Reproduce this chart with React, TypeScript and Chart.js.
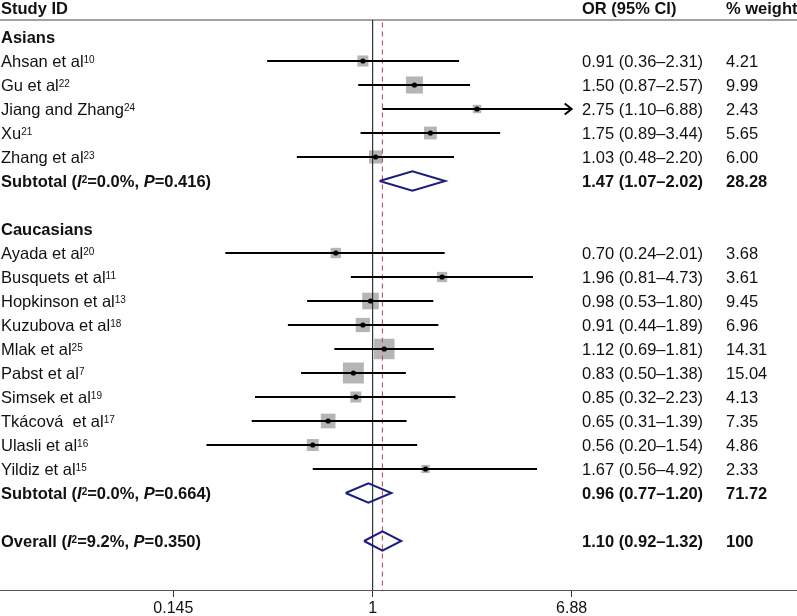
import React, { useEffect, useRef } from "react";
import { Chart, registerables } from "chart.js";

Chart.register(...registerables);

// ---------- data ----------
const studyNames = [
  "Ahsan et al", "Gu et al", "Jiang and Zhang", "Xu", "Zhang et al",
  "Ayada et al", "Busquets et al", "Hopkinson et al", "Kuzubova et al", "Mlak et al",
  "Pabst et al", "Simsek et al", "Tkácová  et al", "Ulasli et al", "Yildiz et al",
];
const studyRefs = ["10", "22", "24", "21", "23", "20", "11", "13", "18", "25", "7", "19", "17", "16", "15"];
const studyRows = [1, 2, 3, 4, 5, 9, 10, 11, 12, 13, 14, 15, 16, 17, 18];
const studyOR = [0.91, 1.5, 2.75, 1.75, 1.03, 0.7, 1.96, 0.98, 0.91, 1.12, 0.83, 0.85, 0.65, 0.56, 1.67];
const studyLow = [0.36, 0.87, 1.1, 0.89, 0.48, 0.24, 0.81, 0.53, 0.44, 0.69, 0.5, 0.32, 0.31, 0.2, 0.56];
const studyHigh = [2.31, 2.57, 6.88, 3.44, 2.2, 2.01, 4.73, 1.8, 1.89, 1.81, 1.38, 2.23, 1.39, 1.54, 4.92];
const studyWeight = [4.21, 9.99, 2.43, 5.65, 6.0, 3.68, 3.61, 9.45, 6.96, 14.31, 15.04, 4.13, 7.35, 4.86, 2.33];

const groupNames = ["Asians", "Caucasians"];
const groupRows = [0, 8];

const summaryRows = [6, 19, 21];
const summaryLabels = ["Subtotal", "Subtotal", "Overall"];
const summaryI2 = ["0.0%", "0.0%", "9.2%"];
const summaryP = ["0.416", "0.664", "0.350"];
const summaryOR = [1.47, 0.96, 1.1];
const summaryLow = [1.07, 0.77, 0.92];
const summaryHigh = [2.02, 1.2, 1.32];
const summaryWeight = ["28.28", "71.72", "100"];

const tickValues = [0.145, 1, 6.88];
const tickLabels = ["0.145", "1", "6.88"];
const nullValue = 1;
const overallEffect = 1.1;
const plotMax = 6.88;

// ---------- layout constants ----------
const W = 797;
const H = 616;
const X_MIN = 0.02705;
const X_MAX = 61.05;
const Y_MIN = -37 / 24;
const Y_MAX = (590 - 37) / 24;
const HEADER_ROW = -1.2;
const TOP_LINE_ROW = -0.708;
const FONT = '"Liberation Sans", Arial, Helvetica, sans-serif';
const FS = 16.5;
const COL_OR = 582;
const COL_W = 726;
const TEXT = "#111111";
const NAVY = "rgb(28,30,125)";

type Seg = { t: string; b?: boolean; i?: boolean; sup?: boolean };

function drawSegs(ctx: CanvasRenderingContext2D, segs: Seg[], x: number, yMid: number) {
  let cx = x;
  const base = yMid + 0.355 * FS;
  for (const s of segs) {
    const sz = s.sup ? 10 : FS;
    ctx.font = `${s.i ? "italic " : ""}${s.b ? "bold " : ""}${sz}px ${FONT}`;
    ctx.fillText(s.t, cx, s.sup ? base - 3.5 : base);
    cx += ctx.measureText(s.t).width;
  }
}

const fmt = (v: number) => v.toFixed(2);

const textPlugin = {
  id: "forestText",
  afterDraw(chart: any) {
    const ctx: CanvasRenderingContext2D = chart.ctx;
    const ys = chart.scales.y;
    const xs = chart.scales.x;
    ctx.save();
    ctx.fillStyle = TEXT;
    ctx.textAlign = "left";
    ctx.textBaseline = "alphabetic";
    const yh = ys.getPixelForValue(HEADER_ROW);
    drawSegs(ctx, [{ t: "Study ID", b: true }], 1, yh);
    drawSegs(ctx, [{ t: "OR (95% CI)", b: true }], COL_OR, yh);
    drawSegs(ctx, [{ t: "% weight", b: true }], COL_W, yh);

    groupNames.forEach((g, k) => {
      drawSegs(ctx, [{ t: g, b: true }], 1, ys.getPixelForValue(groupRows[k]));
    });

    studyNames.forEach((n, k) => {
      const y = ys.getPixelForValue(studyRows[k]);
      drawSegs(ctx, [{ t: n }, { t: studyRefs[k], sup: true }], 1, y);
      drawSegs(ctx, [{ t: `${fmt(studyOR[k])} (${fmt(studyLow[k])}–${fmt(studyHigh[k])})` }], COL_OR, y);
      drawSegs(ctx, [{ t: fmt(studyWeight[k]) }], COL_W, y);
    });

    summaryLabels.forEach((l, k) => {
      const y = ys.getPixelForValue(summaryRows[k]);
      drawSegs(
        ctx,
        [
          { t: `${l} (`, b: true },
          { t: "I", b: true, i: true },
          { t: "2", b: true, sup: true },
          { t: `=${summaryI2[k]}, `, b: true },
          { t: "P", b: true, i: true },
          { t: `=${summaryP[k]})`, b: true },
        ],
        1,
        y
      );
      drawSegs(ctx, [{ t: `${fmt(summaryOR[k])} (${fmt(summaryLow[k])}–${fmt(summaryHigh[k])})`, b: true }], COL_OR, y);
      drawSegs(ctx, [{ t: summaryWeight[k], b: true }], COL_W, y);
    });

    // arrowheads for clipped CIs
    ctx.strokeStyle = "#000";
    ctx.lineWidth = 2;
    studyHigh.forEach((h, k) => {
      if (h >= plotMax) {
        const px = xs.getPixelForValue(plotMax);
        const py = ys.getPixelForValue(studyRows[k]);
        ctx.beginPath();
        ctx.moveTo(px - 7, py - 5.5);
        ctx.lineTo(px, py);
        ctx.lineTo(px - 7, py + 5.5);
        ctx.stroke();
      }
    });
    ctx.restore();
  },
};

function buildDatasets() {
  const ds: any[] = [];
  // top rule
  ds.push({
    type: "line",
    data: [{ x: X_MIN, y: TOP_LINE_ROW }, { x: X_MAX, y: TOP_LINE_ROW }],
    borderColor: "#444",
    borderWidth: 1,
    pointRadius: 0,
    order: 9,
    clip: false,
  });
  // null line
  ds.push({
    type: "line",
    data: [{ x: nullValue, y: TOP_LINE_ROW }, { x: nullValue, y: Y_MAX }],
    borderColor: "#333",
    borderWidth: 1.2,
    pointRadius: 0,
    order: 7,
    clip: false,
  });
  // overall effect dashed line
  ds.push({
    type: "line",
    data: [{ x: overallEffect, y: TOP_LINE_ROW + 0.1 }, { x: overallEffect, y: Y_MAX }],
    borderColor: "rgb(185,90,110)",
    borderWidth: 1.2,
    borderDash: [5, 4],
    pointRadius: 0,
    order: 7,
    clip: false,
  });
  // weight squares
  ds.push({
    type: "scatter",
    data: studyOR.map((v, k) => ({ x: v, y: studyRows[k] })),
    pointStyle: "rect",
    pointRadius: studyWeight.map((w) => (5.4 * Math.sqrt(w)) / Math.SQRT2),
    backgroundColor: "#b5b5b5",
    borderWidth: 0,
    order: 8,
  });
  // CI lines
  studyOR.forEach((_, k) => {
    ds.push({
      type: "line",
      data: [
        { x: studyLow[k], y: studyRows[k] },
        { x: Math.min(studyHigh[k], plotMax), y: studyRows[k] },
      ],
      borderColor: "#000",
      borderWidth: 2,
      pointRadius: 0,
      order: 5,
    });
  });
  // point estimates
  ds.push({
    type: "scatter",
    data: studyOR.map((v, k) => ({ x: v, y: studyRows[k] })),
    pointStyle: "circle",
    pointRadius: 2.6,
    backgroundColor: "#000",
    borderWidth: 0,
    order: 1,
  });
  // diamonds
  summaryOR.forEach((v, k) => {
    const r = summaryRows[k];
    ds.push({
      type: "line",
      data: [
        { x: summaryLow[k], y: r },
        { x: v, y: r - 0.4 },
        { x: summaryHigh[k], y: r },
        { x: v, y: r + 0.4 },
        { x: summaryLow[k], y: r },
      ],
      borderColor: NAVY,
      borderWidth: 2,
      pointRadius: 0,
      fill: false,
      tension: 0,
      order: 2,
    });
  });
  return ds;
}

export default function App() {
  const ref = useRef<HTMLCanvasElement | null>(null);
  useEffect(() => {
    if (!ref.current) return;
    const chart = new Chart(ref.current, {
      type: "scatter",
      data: { datasets: buildDatasets() },
      options: {
        responsive: false,
        animation: false,
        events: [],
        layout: { padding: 0, autoPadding: false },
        plugins: { legend: { display: false }, tooltip: { enabled: false } },
        scales: {
          x: {
            type: "logarithmic",
            position: "bottom",
            min: X_MIN,
            max: X_MAX,
            afterBuildTicks: (s: any) => {
              s.ticks = tickValues.map((v) => ({ value: v }));
            },
            afterFit: (s: any) => {
              s.height = H - 590;
              s.paddingLeft = 0;
              s.paddingRight = 0;
              s.paddingTop = 0;
              s.paddingBottom = 0;
            },
            ticks: {
              autoSkip: false,
              maxRotation: 0,
              color: TEXT,
              padding: 2,
              font: { family: FONT, size: 16 },
              callback: (v: any) => {
                const i = tickValues.indexOf(Number(v));
                return i >= 0 ? tickLabels[i] : "";
              },
            },
            grid: { display: true, drawOnChartArea: false, drawTicks: true, tickLength: 7, color: "#333" },
            border: { display: true, color: "#555", width: 1 },
          },
          y: { type: "linear", min: Y_MIN, max: Y_MAX, reverse: true, display: false },
        },
      } as any,
      plugins: [textPlugin],
    });
    return () => chart.destroy();
  }, []);
  return (
    <div style={{ position: "absolute", left: 0, top: 0, width: W, height: H, background: "#fff" }}>
      <canvas ref={ref} width={W} height={H} style={{ display: "block", width: W, height: H }} />
    </div>
  );
}
